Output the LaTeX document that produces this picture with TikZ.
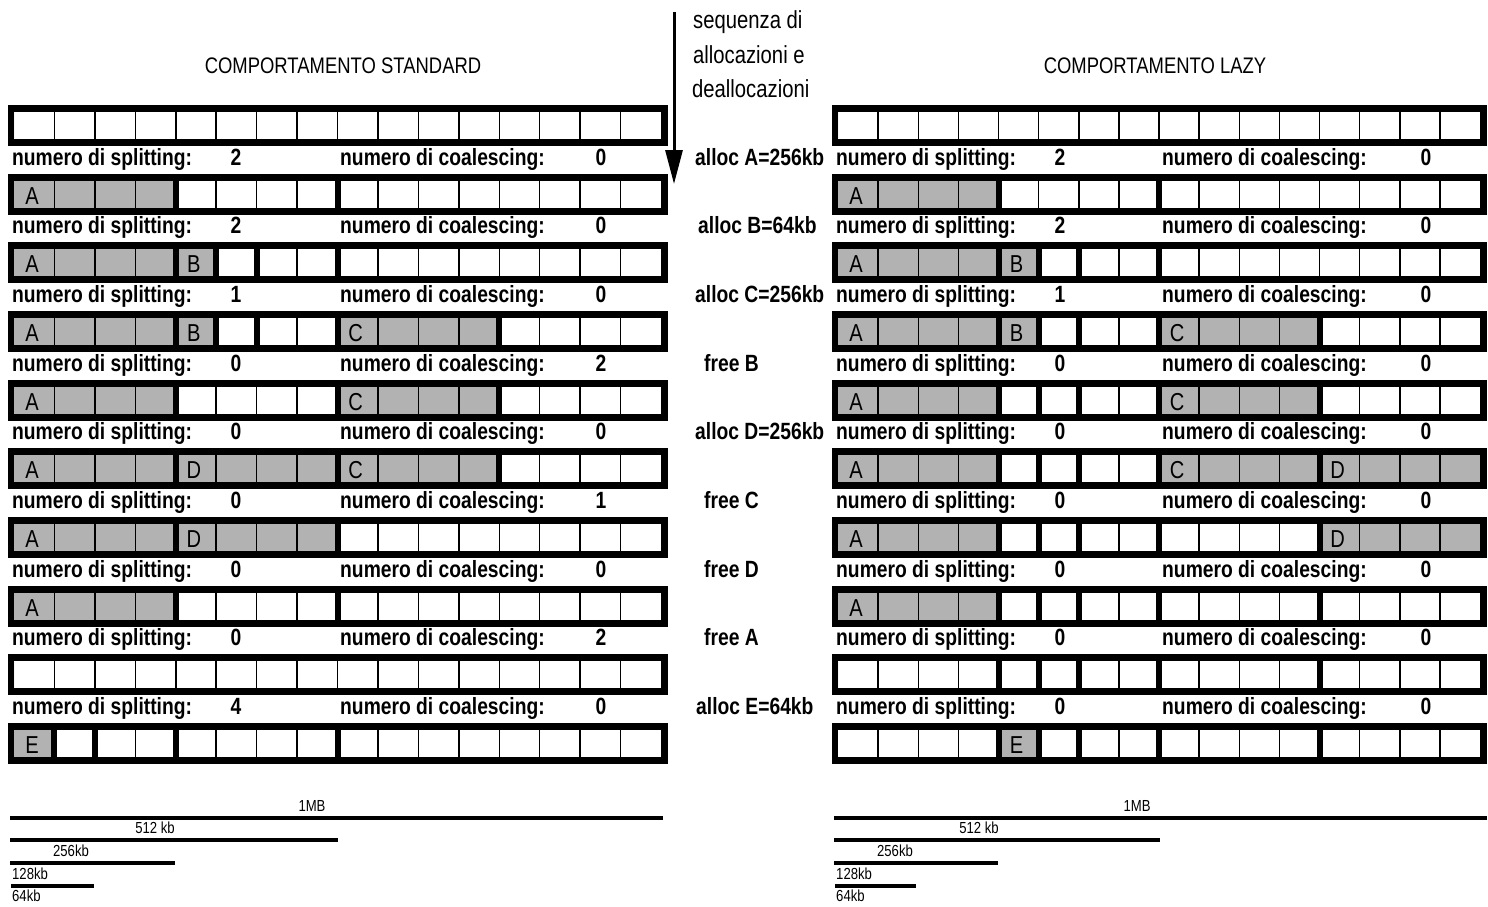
\documentclass[tikz,border=0pt]{standalone}
\usepackage{fontspec}
\setmainfont{Liberation Sans}[FakeStretch=0.82]
\usetikzlibrary{arrows.meta}
\definecolor{cellgray}{RGB}{178,178,178}
\tikzset{
  cellletter/.style={font=\fontsize{24.5}{28}\selectfont, anchor=base, inner sep=0pt},
  lbl/.style={font=\bfseries\fontsize{23.5}{28}\selectfont, anchor=base west, inner sep=0pt},
  num/.style={font=\bfseries\fontsize{23.5}{28}\selectfont, anchor=base, inner sep=0pt},
  title/.style={font=\fontsize{22.5}{28}\selectfont, anchor=base, inner sep=0pt},
  seqtext/.style={font=\fontsize{24.7}{30}\selectfont, anchor=base west, inner sep=0pt},
  small/.style={font=\fontsize{16}{18}\selectfont, inner sep=0pt},
  scaleline/.style={line width=3.5pt},
}
\newcommand\membar[5]{%
  \pgfmathsetmacro\rt{105+68.67*#3}%
  \pgfmathsetmacro\cw{(#2-#1)/16}%
  \fill (#1-6.5,\rt) rectangle (#2+6.5,\rt+41);
  \fill[white] (#1,\rt+7) rectangle (#2,\rt+34);
  \foreach \s/\e/\L in {#5}{\fill[cellgray] (#1+\s*\cw,\rt+7) rectangle (#1+\e*\cw,\rt+34);}
  \foreach \k in {1,...,15}{\draw[line width=1.5pt] (#1+\k*\cw,\rt+7) -- (#1+\k*\cw,\rt+34);}
  \foreach \t in {#4}{\ifnum\t>0 \draw[line width=6pt] (#1+\t*\cw,\rt+7) -- (#1+\t*\cw,\rt+34);\fi}
  \foreach \s/\e/\L in {#5}{\node[cellletter] at (#1+\s*\cw+0.45*\cw,\rt+30.5) {\L};}
}
\begin{document}
\begin{tikzpicture}[x=1pt,y=-1pt]
\useasboundingbox (0,0) rectangle (1488,906);
% titles
\node[title] (tstd) at (343,73) {COMPORTAMENTO STANDARD};
\node[title] (tlazy) at (1155,73) {COMPORTAMENTO LAZY};
\node[seqtext] (seq1) at (693,28) {sequenza di};
\node[seqtext] (seq2) at (693,63) {allocazioni e};
\node[seqtext] (seq3) at (692,97) {deallocazioni};
% arrow
\coordinate (arrS) at (674,12);
\coordinate (arrE) at (674,184);
\draw[line width=3pt, -{Triangle[length=34pt,width=17pt]}] (arrS) -- (arrE);
% left bars (standard)
\membar{14}{661}{0}{0}{0/0/{}}
\membar{14}{661}{1}{4,8}{0/4/A}
\membar{14}{661}{2}{4,5,6,8}{0/4/A,4/5/B}
\membar{14}{661}{3}{4,5,6,8,12}{0/4/A,4/5/B,8/12/C}
\membar{14}{661}{4}{4,8,12}{0/4/A,8/12/C}
\membar{14}{661}{5}{4,8,12}{0/4/A,4/8/D,8/12/C}
\membar{14}{661}{6}{4,8}{0/4/A,4/8/D}
\membar{14}{661}{7}{4,8}{0/4/A}
\membar{14}{661}{8}{0}{0/0/{}}
\membar{14}{661}{9}{1,2,4,8}{0/1/E}
% right bars (lazy)
\membar{838}{1480}{0}{0}{0/0/{}}
\membar{838}{1480}{1}{4,8}{0/4/A}
\membar{838}{1480}{2}{4,5,6,8}{0/4/A,4/5/B}
\membar{838}{1480}{3}{4,5,6,8,12}{0/4/A,4/5/B,8/12/C}
\membar{838}{1480}{4}{4,5,6,8,12}{0/4/A,8/12/C}
\membar{838}{1480}{5}{4,5,6,8,12}{0/4/A,8/12/C,12/16/D}
\membar{838}{1480}{6}{4,5,6,8,12}{0/4/A,12/16/D}
\membar{838}{1480}{7}{4,5,6,8,12}{0/4/A}
\membar{838}{1480}{8}{4,5,6,8,12}{0/0/{}}
\membar{838}{1480}{9}{4,5,6,8,12}{4/5/E}
% label rows
\foreach \i/\a/\b/\c/\d in {0/2/0/2/0,1/2/0/2/0,2/1/0/1/0,3/0/2/0/0,4/0/0/0/0,5/0/1/0/0,6/0/0/0/0,7/0/2/0/0,8/4/0/0/0}{
  \pgfmathsetmacro\bl{105+68.67*\i+60}
  \node[lbl] (ls\i) at (12,\bl) {numero di splitting:};
  \node[num] (lsn\i) at (236,\bl) {\a};
  \node[lbl] (lc\i) at (340,\bl) {numero di coalescing:};
  \node[num] (lcn\i) at (601,\bl) {\b};
  \node[lbl] (rs\i) at (836,\bl) {numero di splitting:};
  \node[num] (rsn\i) at (1060,\bl) {\c};
  \node[lbl] (rc\i) at (1162,\bl) {numero di coalescing:};
  \node[num] (rcn\i) at (1426,\bl) {\d};
}
% operations
\foreach \i/\x/\t in {0/695/{alloc A=256kb},1/698/{alloc B=64kb},2/695/{alloc C=256kb},3/704/{free B},4/695/{alloc D=256kb},5/704/{free C},6/704/{free D},7/704/{free A},8/696/{alloc E=64kb}}{
  \pgfmathsetmacro\bl{105+68.67*\i+60}
  \node[lbl] (op\i) at (\x,\bl) {\t};
}
% scale left
\coordinate (l1a) at (10,818); \coordinate (l1b) at (663,818);
\coordinate (l2a) at (10,840); \coordinate (l2b) at (338,840);
\coordinate (l3a) at (10,863); \coordinate (l3b) at (175,863);
\coordinate (l4a) at (11,886); \coordinate (l4b) at (94,886);
\draw[scaleline] (l1a) -- (l1b);
\draw[scaleline] (l2a) -- (l2b);
\draw[scaleline] (l3a) -- (l3b);
\draw[scaleline] (l4a) -- (l4b);
\node[small, anchor=base] (s1) at (312,811) {1MB};
\node[small, anchor=base] (s2) at (155,833) {512 kb};
\node[small, anchor=base] (s3) at (71,856) {256kb};
\node[small, anchor=base west] (s4) at (12,879) {128kb};
\node[small, anchor=base west] (s5) at (12,901) {64kb};
% scale right
\coordinate (r1a) at (834,818); \coordinate (r1b) at (1487,818);
\coordinate (r2a) at (834,840); \coordinate (r2b) at (1160,840);
\coordinate (r3a) at (834,863); \coordinate (r3b) at (998,863);
\coordinate (r4a) at (835,886); \coordinate (r4b) at (916,886);
\draw[scaleline] (r1a) -- (r1b);
\draw[scaleline] (r2a) -- (r2b);
\draw[scaleline] (r3a) -- (r3b);
\draw[scaleline] (r4a) -- (r4b);
\node[small, anchor=base] (t1) at (1137,811) {1MB};
\node[small, anchor=base] (t2) at (979,833) {512 kb};
\node[small, anchor=base] (t3) at (895,856) {256kb};
\node[small, anchor=base west] (t4) at (836,879) {128kb};
\node[small, anchor=base west] (t5) at (836,901) {64kb};
\end{tikzpicture}
\end{document}
